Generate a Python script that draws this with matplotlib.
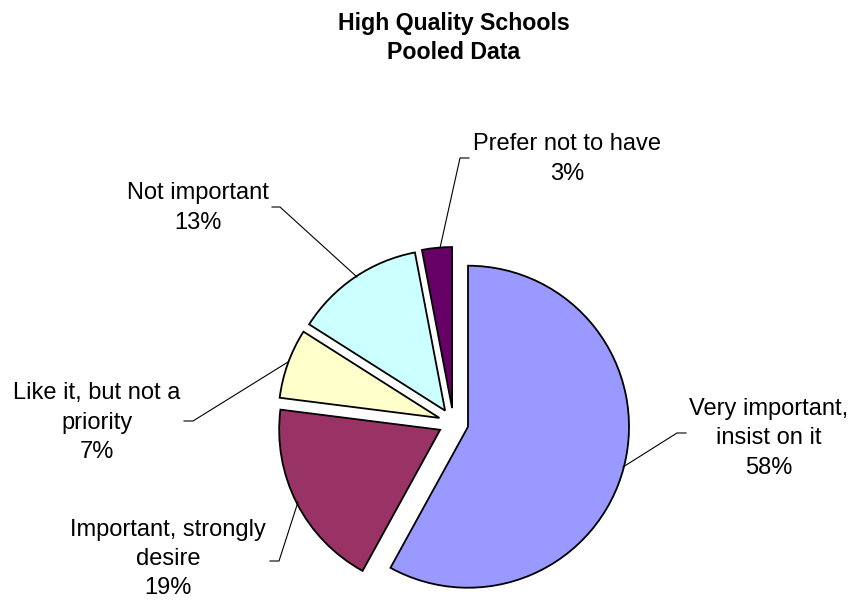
import matplotlib.pyplot as plt

plt.rcParams['font.family'] = ['Liberation Sans', 'DejaVu Sans']

categorias = ['Very important,\ninsist on it', 'Important, strongly\ndesire',
              'Like it, but not a\npriority', 'Not important', 'Prefer not to have']
valores = [58, 19, 7, 13, 3]
cores = ['#9999FF', '#993366', '#FFFFCC', '#CCFFFF', '#660066']

# pixel geometry of the pie in the 851x600 figure
cx, cy, r = 453.5, 423.0, 161.0

fig = plt.figure(figsize=(8.51, 6.0), dpi=100)
ax = fig.add_axes([0, 0, 1, 1])
ax.pie(valores, colors=cores, startangle=90, counterclock=False,
       explode=[0.093] * len(valores),
       wedgeprops=dict(edgecolor='black', linewidth=1.3))
ax.set_xlim(-cx / r, (851 - cx) / r)
ax.set_ylim((cy - 600) / r, cy / r)
ax.axis('off')


def px(x, y):
    return (x - cx) / r, (cy - y) / r


# label positions (pixels) and leader lines
rotulos = [
    ((769, 438.5), [(623, 467), (677, 433), (686, 433)]),
    ((168, 559), [(298, 502), (279, 561), (270, 561)]),
    ((97, 422.5), [(288, 362), (193, 421), (184, 421)]),
    ((198, 208), [(357, 277), (280, 207), (272, 207)]),
    ((567, 159), [(440, 248), (460, 158), (469, 158)]),
]

for cat, v, (pos, linha) in zip(categorias, valores, rotulos):
    xs, ys = zip(*[px(a, b) for a, b in linha])
    ax.plot(xs, ys, color='black', linewidth=0.8)
    ax.text(*px(*pos), f'{cat}\n{v}%', ha='center', va='center',
            fontsize=17, linespacing=1.42)

fig.text(454 / 851, 1 - 38 / 600, 'High Quality Schools\nPooled Data',
         ha='center', va='center', fontsize=16.7, fontweight='bold',
         linespacing=1.38)

plt.savefig('out.png', dpi=100)
